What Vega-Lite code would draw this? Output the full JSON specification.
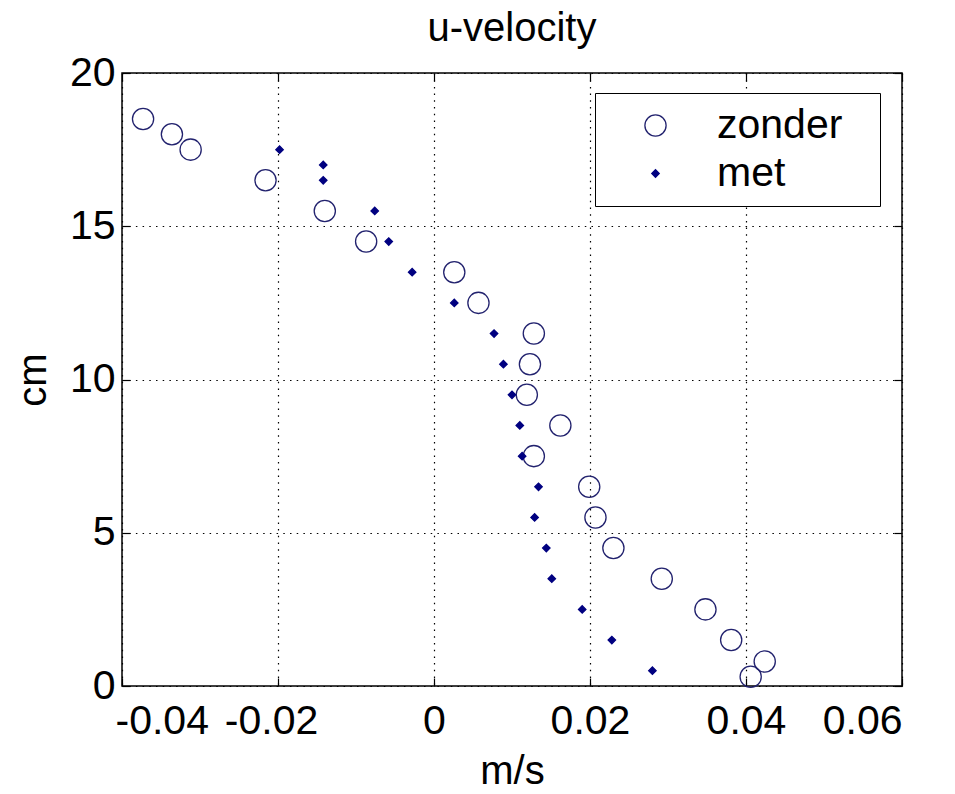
{
  "$schema": "https://vega.github.io/schema/vega-lite/v6.json",
  "autosize": "none",
  "width": 780,
  "height": 613,
  "padding": {"left": 122, "top": 73, "right": 53, "bottom": 108},
  "background": "white",
  "title": {"text": "u-velocity", "fontSize": 40, "font": "Liberation Sans", "fontWeight": "normal", "color": "black", "offset": 3, "anchor": "middle", "frame": "group"},
  "config": {
    "view": {"stroke": "black", "strokeWidth": 1.5},
    "font": "Liberation Sans"
  },
  "data": {
    "values": [
      {"u": -0.0373, "cm": 18.5, "series": "zonder"},
      {"u": -0.0336, "cm": 18.0, "series": "zonder"},
      {"u": -0.0312, "cm": 17.5, "series": "zonder"},
      {"u": -0.0216, "cm": 16.5, "series": "zonder"},
      {"u": -0.0140, "cm": 15.5, "series": "zonder"},
      {"u": -0.0087, "cm": 14.5, "series": "zonder"},
      {"u": 0.0026, "cm": 13.5, "series": "zonder"},
      {"u": 0.0057, "cm": 12.5, "series": "zonder"},
      {"u": 0.0128, "cm": 11.5, "series": "zonder"},
      {"u": 0.0123, "cm": 10.5, "series": "zonder"},
      {"u": 0.0119, "cm": 9.5, "series": "zonder"},
      {"u": 0.0162, "cm": 8.5, "series": "zonder"},
      {"u": 0.0128, "cm": 7.5, "series": "zonder"},
      {"u": 0.0199, "cm": 6.5, "series": "zonder"},
      {"u": 0.0207, "cm": 5.5, "series": "zonder"},
      {"u": 0.0230, "cm": 4.5, "series": "zonder"},
      {"u": 0.0292, "cm": 3.5, "series": "zonder"},
      {"u": 0.0348, "cm": 2.5, "series": "zonder"},
      {"u": 0.0381, "cm": 1.5, "series": "zonder"},
      {"u": 0.0424, "cm": 0.8, "series": "zonder"},
      {"u": 0.0406, "cm": 0.3, "series": "zonder"},
      {"u": -0.0198, "cm": 17.5, "series": "met"},
      {"u": -0.0142, "cm": 17.0, "series": "met"},
      {"u": -0.0142, "cm": 16.5, "series": "met"},
      {"u": -0.0076, "cm": 15.5, "series": "met"},
      {"u": -0.0058, "cm": 14.5, "series": "met"},
      {"u": -0.0028, "cm": 13.5, "series": "met"},
      {"u": 0.0026, "cm": 12.5, "series": "met"},
      {"u": 0.0077, "cm": 11.5, "series": "met"},
      {"u": 0.0089, "cm": 10.5, "series": "met"},
      {"u": 0.0100, "cm": 9.5, "series": "met"},
      {"u": 0.0110, "cm": 8.5, "series": "met"},
      {"u": 0.0113, "cm": 7.5, "series": "met"},
      {"u": 0.0134, "cm": 6.5, "series": "met"},
      {"u": 0.0129, "cm": 5.5, "series": "met"},
      {"u": 0.0144, "cm": 4.5, "series": "met"},
      {"u": 0.0151, "cm": 3.5, "series": "met"},
      {"u": 0.0190, "cm": 2.5, "series": "met"},
      {"u": 0.0228, "cm": 1.5, "series": "met"},
      {"u": 0.0280, "cm": 0.5, "series": "met"}
    ]
  },
  "resolve": {"axis": {"x": "independent", "y": "independent"}},
  "layer": [
    {
      "mark": {"type": "point", "strokeWidth": 1.3, "opacity": 1},
      "encoding": {
        "x": {
          "field": "u", "type": "quantitative",
          "scale": {"domain": [-0.04, 0.06], "nice": false, "zero": false},
          "axis": {
            "title": "m/s", "values": [-0.04, -0.02, 0, 0.02, 0.04, 0.06],
            "labelExpr": "datum.value == 0 ? '0' : (datum.value < 0 ? '-' + format(-datum.value, '.2f') : format(datum.value, '.2f'))",
            "labelFontSize": 41, "labelColor": "black", "labelPadding": 23,
            "labelOffset": {"condition": {"test": "datum.value < 0", "value": -7}, "value": 0},
            "titleFontSize": 40, "titleFontWeight": "normal", "titleColor": "black", "titlePadding": 10,
            "ticks": true, "tickSize": -8, "tickColor": "black", "tickWidth": 1.2, "domain": false,
            "grid": true, "gridColor": "black", "gridOpacity": 1, "gridDash": [1.5, 5.2], "gridWidth": 1.2
          }
        },
        "y": {
          "field": "cm", "type": "quantitative",
          "scale": {"domain": [0, 20], "nice": false},
          "axis": {
            "title": "cm", "values": [0, 5, 10, 15, 20],
            "labelFontSize": 41, "labelColor": "black", "labelPadding": 15,
            "titleFontSize": 40, "titleFontWeight": "normal", "titleColor": "black", "titlePadding": 16,
            "ticks": true, "tickSize": -8, "tickColor": "black", "tickWidth": 1.2, "domain": false,
            "grid": true, "gridColor": "black", "gridOpacity": 1, "gridDash": [1.5, 5.2], "gridWidth": 1.2
          }
        },
        "shape": {
          "field": "series", "type": "nominal",
          "scale": {"domain": ["zonder", "met"], "range": ["circle", "diamond"]},
          "legend": {
            "title": "\u00a0", "titleOrient": "right", "titlePadding": 26, "titleFontSize": 2,
            "orient": "none", "legendX": 473, "legendY": 20,
            "strokeColor": "black", "fillColor": "white", "padding": 12,
            "labelFontSize": 41, "labelColor": "black", "labelFont": "Liberation Sans",
            "rowPadding": 6, "symbolOffset": 28, "labelOffset": 41, "symbolStrokeWidth": 1.3
          }
        },
        "fill": {
          "field": "series", "type": "nominal",
          "scale": {"domain": ["zonder", "met"], "range": ["transparent", "#000080"]}
        },
        "stroke": {
          "field": "series", "type": "nominal",
          "scale": {"domain": ["zonder", "met"], "range": ["#22226e", "#000080"]}
        },
        "size": {
          "field": "series", "type": "nominal",
          "scale": {"domain": ["zonder", "met"], "range": [450, 55]}
        }
      }
    },
    {
      "mark": {"type": "point", "opacity": 0},
      "encoding": {
        "x": {
          "field": "u", "type": "quantitative",
          "axis": {"orient": "top", "title": null, "labels": false, "domain": false, "grid": false,
                   "values": [-0.04, -0.02, 0, 0.02, 0.04, 0.06], "ticks": true, "tickSize": -8, "tickColor": "black", "tickWidth": 1.2}
        },
        "y": {
          "field": "cm", "type": "quantitative",
          "axis": {"orient": "right", "title": null, "labels": false, "domain": false, "grid": false,
                   "values": [0, 5, 10, 15, 20], "ticks": true, "tickSize": -8, "tickColor": "black", "tickWidth": 1.2}
        }
      }
    }
  ]
}
